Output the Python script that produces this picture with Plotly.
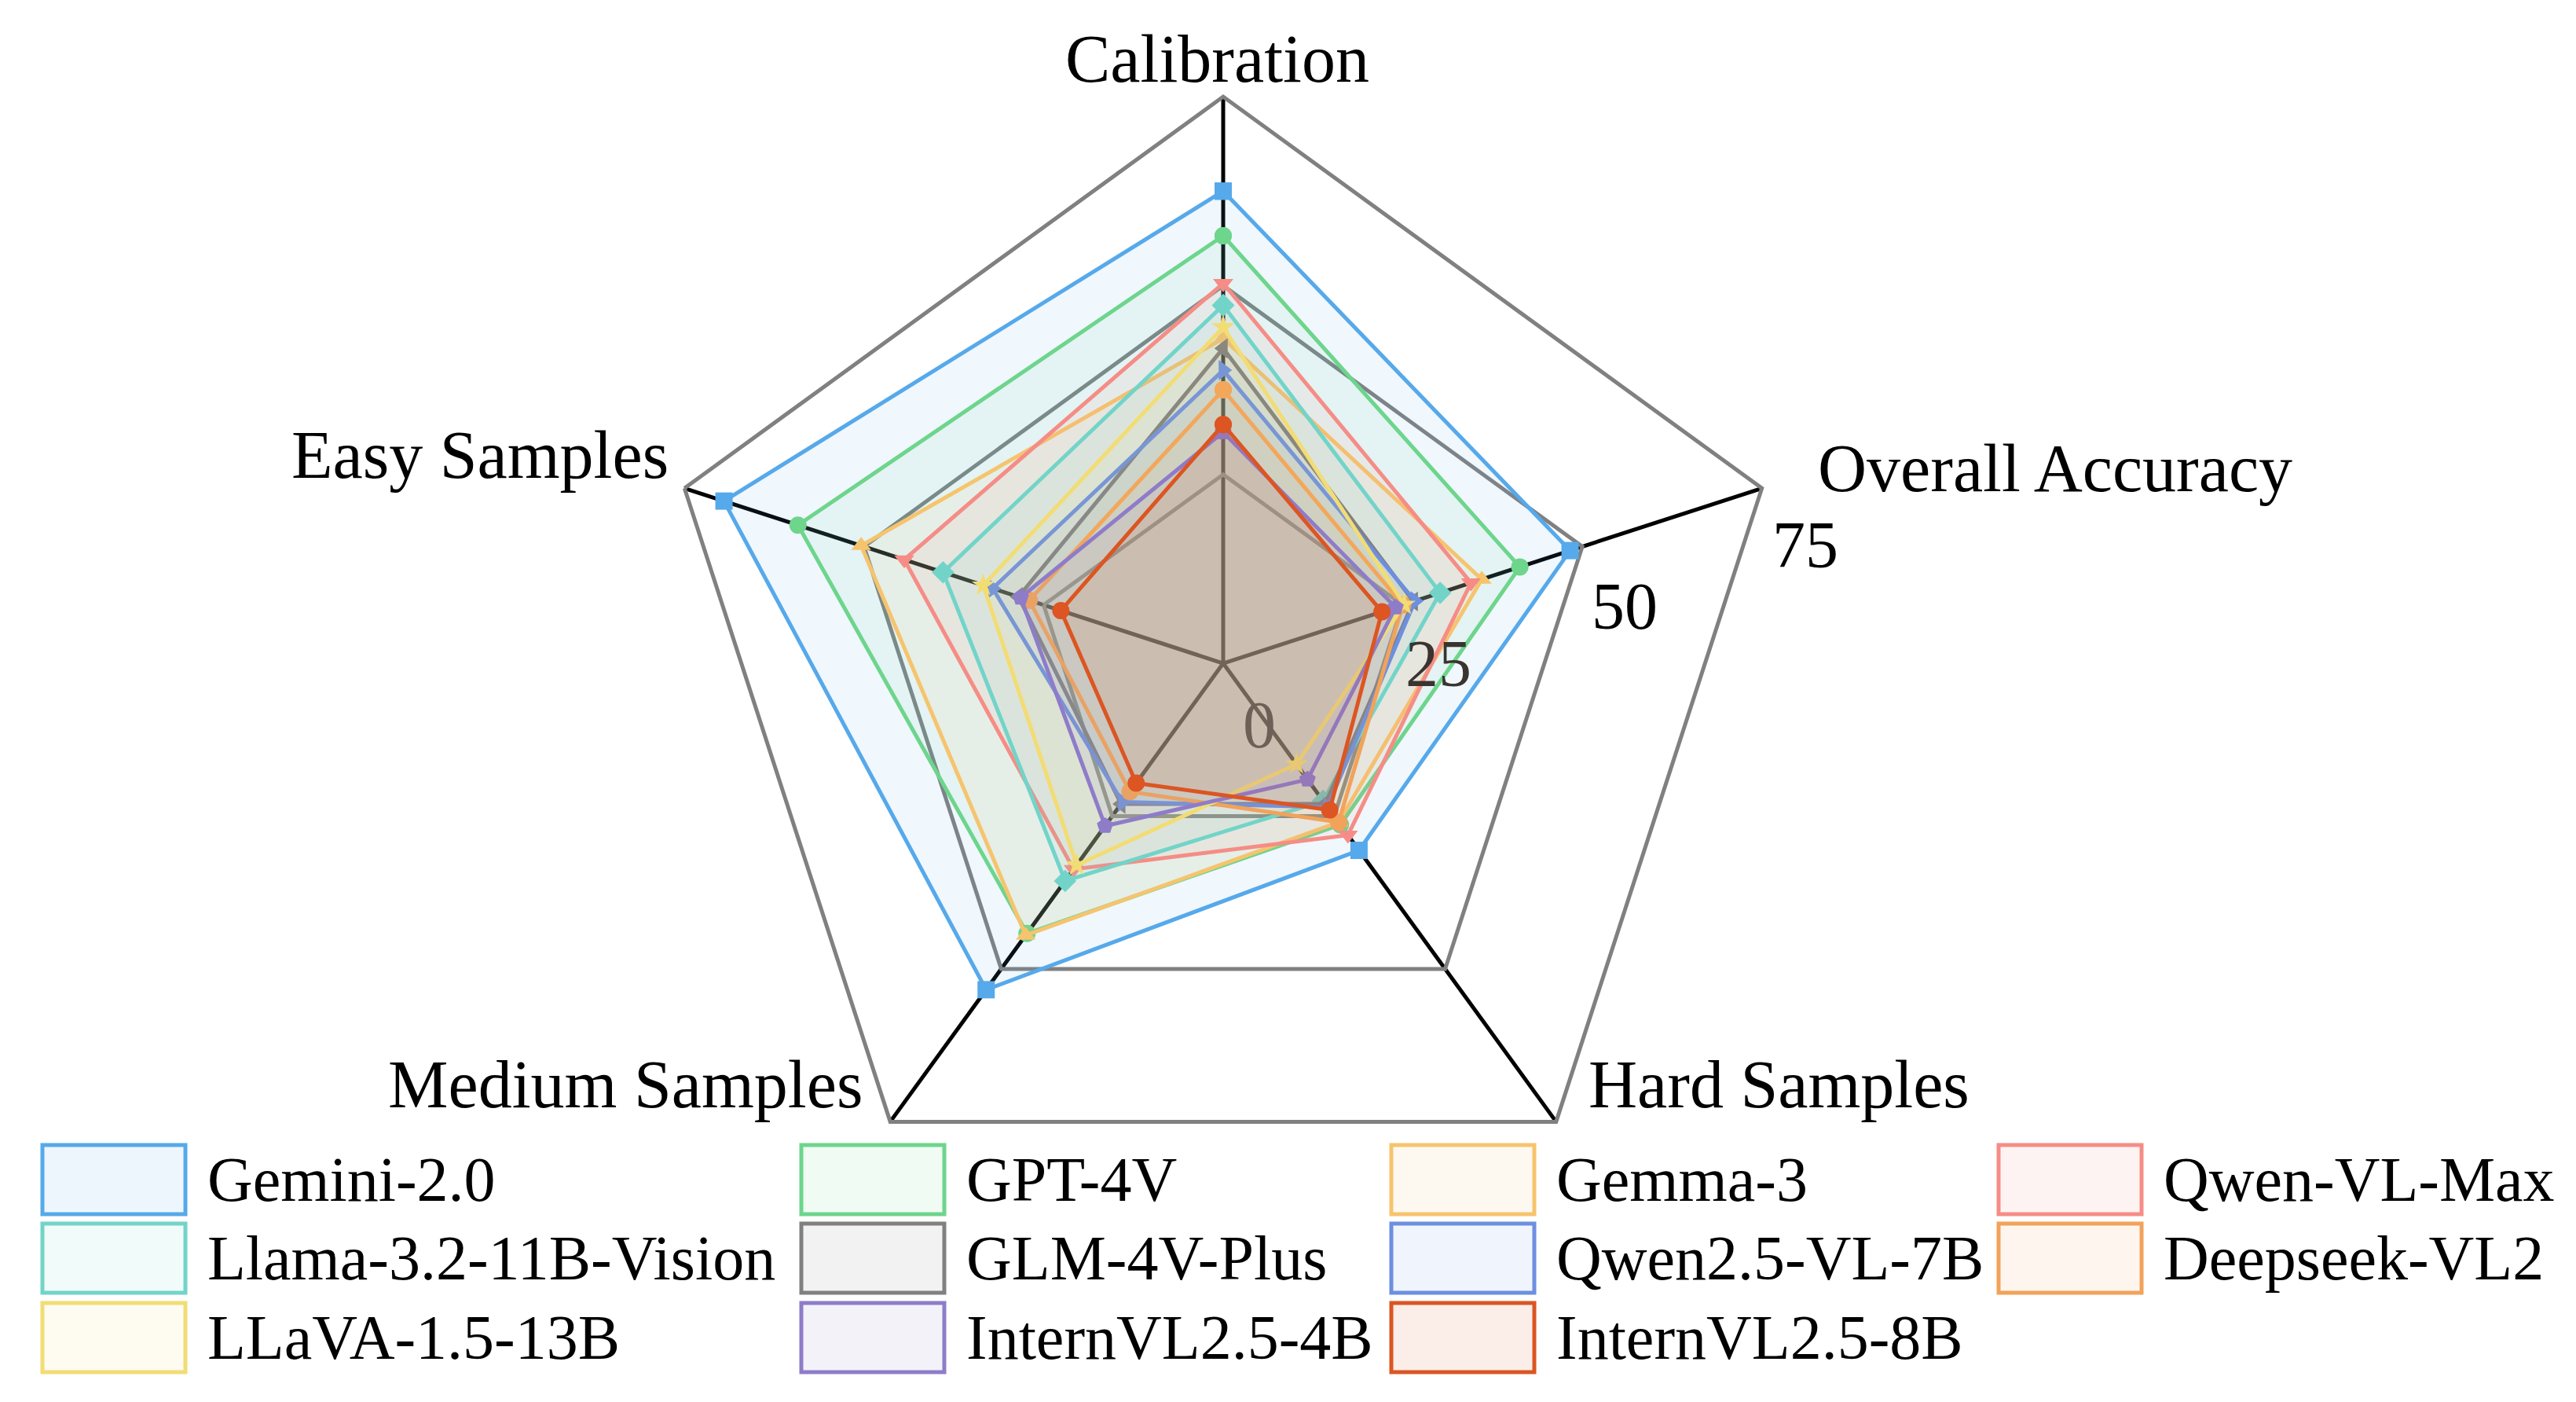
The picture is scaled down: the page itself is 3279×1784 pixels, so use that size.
import plotly.graph_objects as go

axes = ["Calibration", "Overall Accuracy", "Hard Samples", "Medium Samples", "Easy Samples"]
models = ["Gemini-2.0", "GPT-4V", "Gemma-3", "Qwen-VL-Max",
          "Llama-3.2-11B-Vision", "GLM-4V-Plus", "Qwen2.5-VL-7B", "Deepseek-VL2",
          "LLaVA-1.5-13B", "InternVL2.5-4B", "InternVL2.5-8B"]
gemini = [62.5, 48.3, 30.6, 53.4, 69.5]
gpt4v = [56.6, 41.3, 26.4, 44.2, 59.2]
gemma = [43.0, 36.0, 26.0, 44.5, 50.4]
qwenmax = [50.3, 34.5, 28.1, 33.7, 44.4]
llama = [47.4, 30.2, 22.5, 35.6, 39.0]
glm = [41.7, 26.5, 23.0, 23.0, 28.5]
qwen25 = [38.8, 26.7, 23.5, 22.7, 32.1]
deepseek = [36.2, 25.0, 26.0, 21.0, 27.0]
llava = [44.5, 25.2, 16.5, 33.0, 33.4]
intern4b = [30.6, 24.0, 19.0, 26.6, 28.2]
intern8b = [31.6, 22.1, 24.0, 19.6, 22.6]
series = [gemini, gpt4v, gemma, qwenmax, llama, glm, qwen25, deepseek, llava, intern4b, intern8b]
radial_ticks = [0, 25, 50, 75]
radial_labels = ["0", "25", "50", "75"]

colors = ["#56A9EA", "#6DD58C", "#F6C46E", "#F58D86", "#72D4C9", "#808080",
          "#6C8FE0", "#F2A25A", "#F2DC74", "#8E7CC9", "#DC5522"]
symbols = ["square", "circle", "triangle-up", "triangle-down", "diamond", "triangle-left",
           "triangle-right", "circle", "star", "pentagon", "circle"]

def rgba(h, a):
    h = h.lstrip("#")
    return "rgba(%d,%d,%d,%s)" % (int(h[0:2], 16), int(h[2:4], 16), int(h[4:6], 16), a)

fig = go.Figure()
for name, vals, c, s in zip(models, series, colors, symbols):
    fig.add_trace(go.Scatterpolar(
        r=vals + vals[:1], theta=axes + axes[:1], mode="lines+markers", name=name,
        fill="toself", fillcolor=rgba(c, 0.09),
        line=dict(color=c, width=5), marker=dict(symbol=s, size=22, color=c),
        showlegend=False))

font = "Liberation Serif, Times New Roman, serif"
W, H = 3279, 1784
fig.update_layout(
    width=W, height=H, paper_bgcolor="white", margin=dict(l=0, r=0, t=0, b=0),
    font=dict(family=font, color="black"),
    polar=dict(
        domain=dict(x=[0.2525, 0.6923], y=[0.1272, 0.9355]),
        bgcolor="white", gridshape="linear",
        angularaxis=dict(rotation=90, direction="clockwise", linecolor="#808080", linewidth=5,
                         gridcolor="black", gridwidth=5, showticklabels=False,
                         ticks="", layer="below traces"),
        radialaxis=dict(range=[0, 75], tickvals=radial_ticks, angle=18,
                        showline=False, gridcolor="#808080", gridwidth=5,
                        showticklabels=False, ticks="", layer="below traces")))

# axis category labels
label_pos = [(1541, 67, "center"), (2304, 588, "left"), (2012, 1372, "left"),
             (1092, 1372, "right"), (845, 571, "right")]
for name, (x, y, anc) in zip(axes, label_pos):
    fig.add_annotation(xref="paper", yref="paper", x=x / W, y=1 - y / H, text=name,
                       showarrow=False, xanchor=anc, yanchor="middle",
                       font=dict(size=86, family=font, color="black"))
# radial tick labels
tick_pos = [(1595, 914), (1823, 836), (2060, 763), (2290, 686)]
tick_cols = ["#6e5f57", "#3a3330", "black", "black"]
for t, (x, y), tc in zip(radial_labels, tick_pos, tick_cols):
    fig.add_annotation(xref="paper", yref="paper", x=x / W, y=1 - y / H, text=t,
                       showarrow=False, xanchor="center", yanchor="middle",
                       font=dict(size=84, family=font, color=tc))

# legend built as boxes + labels
cols_x = [46, 1012, 1763, 2536]
rows_y = [1493, 1593, 1694]
order = [[0, 4, 8], [1, 5, 9], [2, 6, 10], [3, 7]]
for ci, col in enumerate(order):
    for ri, mi in enumerate(col):
        x0 = cols_x[ci]; yc = rows_y[ri]
        fig.add_shape(type="rect", xref="paper", yref="paper",
                      x0=x0 / W, x1=(x0 + 182) / W, y0=1 - (yc + 44) / H, y1=1 - (yc - 44) / H,
                      line=dict(color=colors[mi], width=5), fillcolor=rgba(colors[mi], 0.1))
        fig.add_annotation(xref="paper", yref="paper", x=(x0 + 208) / W, y=1 - yc / H,
                           text=models[mi], showarrow=False, xanchor="left", yanchor="middle",
                           font=dict(size=80, family=font, color="black"))
fig.write_html("out.html")
